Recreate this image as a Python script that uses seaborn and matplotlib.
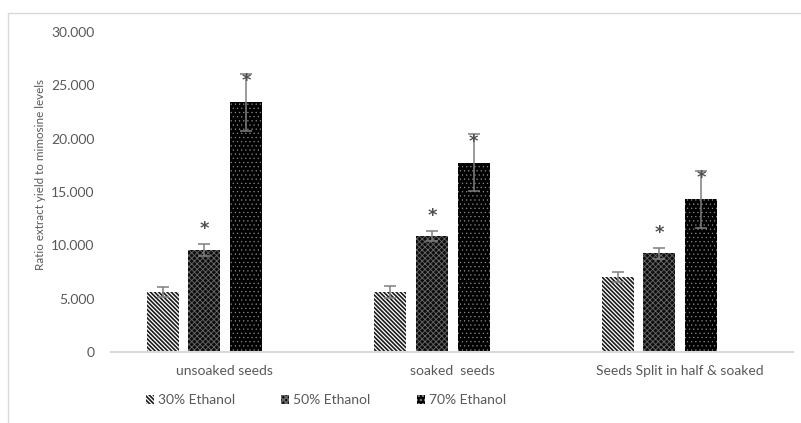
import numpy as np
import pandas as pd
import matplotlib
matplotlib.use("Agg")
import matplotlib.pyplot as plt
import matplotlib.patches as mpatches
import seaborn as sns
from matplotlib.lines import Line2D
from matplotlib.ticker import FuncFormatter

categories = ["unsoaked seeds", "soaked  seeds", "Seeds Split in half & soaked"]
series = ["30% Ethanol", "50% Ethanol", "70% Ethanol"]
vals_30 = [5.62, 5.65, 7.03]
vals_50 = [9.56, 10.90, 9.25]
vals_70 = [23.40, 17.75, 14.30]
err_30 = [0.45, 0.55, 0.50]
err_50 = [0.53, 0.47, 0.53]
err_70 = [2.70, 2.65, 2.70]
star_50 = [True, True, True]
star_70 = [True, True, True]
yticks = [0, 5, 10, 15, 20, 25, 30]

sns.set_theme(style="white")
plt.rcParams["font.family"] = ["Lato", "DejaVu Sans"]
plt.rcParams["hatch.linewidth"] = 1.2

GRAY = "#595959"
df = pd.DataFrame({
    "cat": categories * 3,
    "series": [s for s in series for _ in categories],
    "val": vals_30 + vals_50 + vals_70,
})
errs = [err_30, err_50, err_70]
vals = [vals_30, vals_50, vals_70]
stars = [[False] * 3, star_50, star_70]

fig = plt.figure(figsize=(8.01, 4.23), dpi=100)
ax = fig.add_axes([111 / 801, 1 - 352 / 423, (793 - 111) / 801, (352 - 32) / 423])

sns.barplot(data=df, x="cat", y="val", hue="series", order=categories,
            hue_order=series, palette=["white", "black", "black"],
            width=0.548, gap=0.23, errorbar=None, ax=ax, legend=False,
            linewidth=0)

styles = [
    dict(facecolor="white", edgecolor="#1a1a1a", hatch="\\" * 8, hlw=1.2),
    dict(facecolor="#0d0d0d", edgecolor="#6a6a6a", hatch="x" * 6, hlw=0.6),
    dict(facecolor="black", edgecolor="#8a8a8a", hatch="." * 4, hlw=0.4),
]


def style_patch(p, st):
    p.set_facecolor(st["facecolor"])
    p.set_edgecolor(st["edgecolor"])
    p.set_hatch(st["hatch"])
    p.set_linewidth(0)
    if hasattr(p, "set_hatch_linewidth"):
        try:
            p.set_hatch_linewidth(st["hlw"])
        except Exception:
            pass


bar_conts = list(ax.containers)
for cont, st in zip(bar_conts, styles):
    for p in cont:
        style_patch(p, st)

for k, cont in enumerate(bar_conts):
    xs = [p.get_x() + p.get_width() / 2 for p in cont]
    ax.errorbar(xs, vals[k], yerr=errs[k], fmt="none", ecolor="#7f7f7f",
                elinewidth=1.1, capsize=4.5, capthick=1.1, zorder=5)
    for x, v, e, s in zip(xs, vals[k], errs[k], stars[k]):
        if not s:
            continue
        if k == 1:
            y = v + e + 1.4
        else:
            y = v + e - 0.7
        ax.text(x, y, "*", ha="center", va="center", fontsize=13,
                color="#505050", zorder=6, family="DejaVu Sans", fontweight="bold")

ax.set_ylim(0, 30)
ax.set_yticks(yticks)
ax.yaxis.set_major_formatter(FuncFormatter(lambda v, p: "0" if v == 0 else f"{v:.3f}"))
ax.set_xlim(-0.411, 2.587)
ax.set_xticks([i + 0.089 for i in range(len(categories))])
ax.set_xticklabels(categories)
ax.tick_params(axis="both", length=0, labelsize=10, colors=GRAY)
ax.tick_params(axis="y", pad=12)
ax.tick_params(axis="x", pad=9)
ax.set_xlabel("")
ax.set_ylabel("")
for sp in ["top", "right", "left"]:
    ax.spines[sp].set_visible(False)
ax.spines["bottom"].set_color("#d9d9d9")
ax.spines["bottom"].set_linewidth(1.5)
ax.grid(False)

fig.text(41 / 801, 1 - 174 / 423, "Ratio extract yield to mimosine levels",
         rotation=90, ha="center", va="center", fontsize=8.4, color=GRAY)

handles = []
for st in styles:
    h = mpatches.Patch(facecolor=st["facecolor"], edgecolor=st["edgecolor"],
                       hatch=st["hatch"], linewidth=0)
    handles.append(h)
leg = fig.legend(handles, series, loc="center left",
                 bbox_to_anchor=(133 / 801, 1 - 400 / 423), ncol=3, frameon=False,
                 handlelength=0.6, handleheight=0.6, handletextpad=0.3,
                 columnspacing=3.3, fontsize=10)
for t in leg.get_texts():
    t.set_color(GRAY)

# chart border (light gray) left and top
fig.add_artist(Line2D([8 / 801, 8 / 801], [0, 1 - 13 / 423], color="#d9d9d9", lw=1,
                      transform=fig.transFigure))
fig.add_artist(Line2D([8 / 801, 1], [1 - 13 / 423, 1 - 13 / 423], color="#d9d9d9", lw=1,
                      transform=fig.transFigure))

fig.savefig("out.png", dpi=100, facecolor="white")
